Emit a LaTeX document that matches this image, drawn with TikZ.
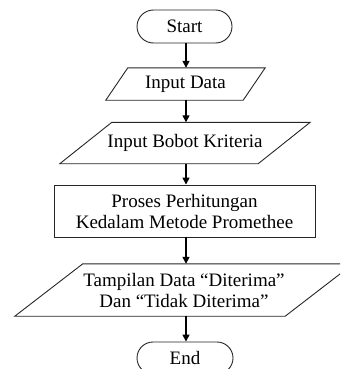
\documentclass[tikz,border=0pt]{standalone}
\usepackage{fontspec}
\setmainfont{Liberation Serif}
\usetikzlibrary{shapes.misc,arrows.meta,calc}
\newcommand\parashape[2]{\draw[para] ($(#1.north west)+(#2,0)$) -- ($(#1.north east)+(#2,0)$) -- ($(#1.south east)-(#2,0)$) -- ($(#1.south west)-(#2,0)$) -- cycle;}
\begin{document}
\begin{tikzpicture}[x=1pt,y=-1pt,
  every node/.style={font=\fontsize{19}{21}\selectfont, inner sep=0pt, align=center},
  term/.style={rounded rectangle, draw=black!85, line width=0.9pt, minimum width=95pt, minimum height=33pt},
  procbox/.style={rectangle, draw=black!85, line width=0.9pt},
  iobox/.style={rectangle, draw=none},
  para/.style={draw=black!85, line width=0.9pt},
  arr/.style={-{Triangle[length=7pt,width=7pt]}, line width=1.5pt, black}
]
\useasboundingbox (0,0) rectangle (340,369);
\clip (0,0) rectangle (340,369);
\coordinate (axis) at (186,0);
\node[term] (start) at (184.5,26.5) {Start};
\node[iobox, minimum width=137pt, minimum height=32pt] (in1) at (185.5,84) {Input Data};
\node[iobox, minimum width=198pt, minimum height=41pt] (in2) at (185,143) {Input Bobot Kriteria};
\node[procbox, minimum width=261pt, minimum height=52pt] (prc) at (184.5,211) {Proses Perhitungan\\Kedalam Metode Promethee};
\node[iobox, minimum width=270pt, minimum height=52pt] (out) at (184,290) {Tampilan Data “Diterima”\\Dan “Tidak Diterima”};
\node[term, minimum width=96pt, minimum height=32pt] (end) at (185,358) {End};
\parashape{in1}{11}
\parashape{in2}{26}
\parashape{out}{34}
\draw[arr] (start.south -| axis) -- (in1.north -| axis);
\draw[arr] (in1.south -| axis) -- (in2.north -| axis);
\draw[arr] (in2.south -| axis) -- (prc.north -| axis);
\draw[arr] (prc.south -| axis) -- (out.north -| axis);
\draw[arr] (out.south -| axis) -- (end.north -| axis);
\end{tikzpicture}
\end{document}
